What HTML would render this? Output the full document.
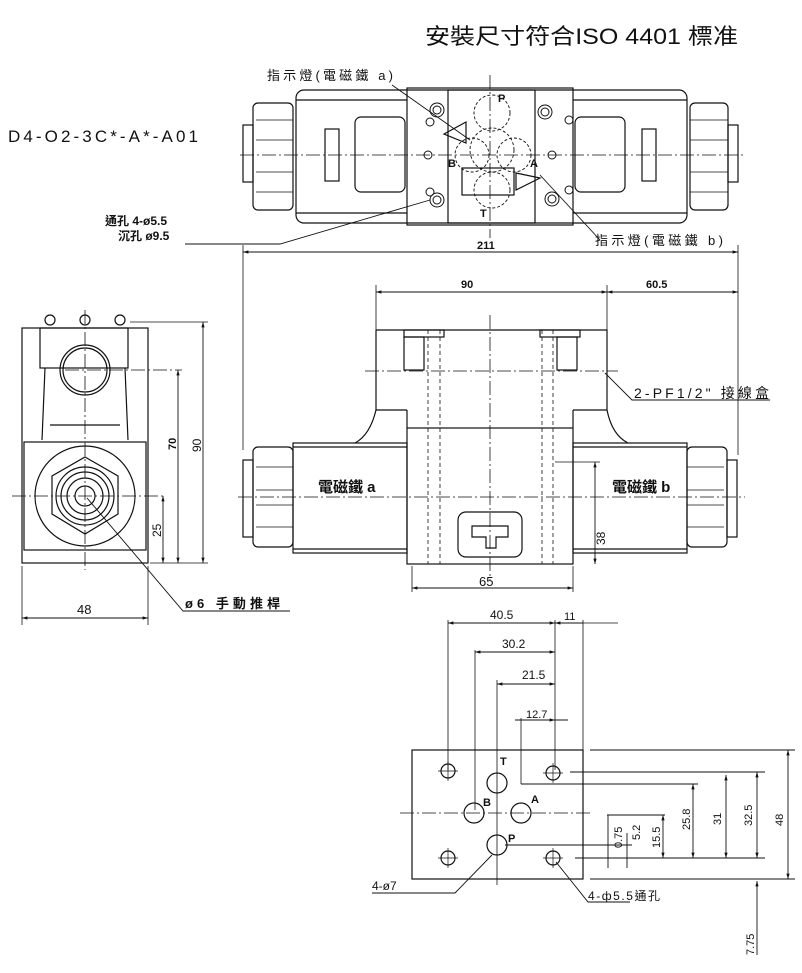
<!DOCTYPE html>
<html><head><meta charset="utf-8"><style>
html,body{margin:0;padding:0;background:#fff;}
svg{display:block}
text{font-family:"Liberation Sans","Noto Sans CJK TC",sans-serif;fill:#111}
</style></head><body>
<svg width="802" height="973" viewBox="0 0 802 973" xmlns="http://www.w3.org/2000/svg">
<defs>
<marker id="a" viewBox="0 0 10 10" refX="10" refY="5" markerWidth="8" markerHeight="6" orient="auto-start-reverse"><path d="M0,2 L10,5 L0,8 z" fill="#111"/></marker>
</defs>
<g stroke="#111" fill="none" stroke-width="1.2">
<!-- ===== TOP VIEW ===== -->
<rect x="296" y="90" width="391" height="133" rx="8"/>
<line x1="296" y1="100" x2="407" y2="100"/><line x1="573" y1="100" x2="687" y2="100"/>
<line x1="296" y1="213" x2="407" y2="213"/><line x1="573" y1="213" x2="687" y2="213"/>
<rect x="253" y="103" width="40" height="107" rx="5"/>
<g stroke-width="0.8"><line x1="256" y1="120" x2="293" y2="120"/><line x1="256" y1="140" x2="293" y2="140"/><line x1="256" y1="172" x2="293" y2="172"/><line x1="256" y1="192" x2="293" y2="192"/>
<line x1="690" y1="120" x2="728" y2="120"/><line x1="690" y1="140" x2="728" y2="140"/><line x1="690" y1="172" x2="728" y2="172"/><line x1="690" y1="192" x2="728" y2="192"/></g>
<rect x="243" y="125" width="10" height="57"/>
<rect x="690" y="103" width="38" height="107" rx="5"/>
<rect x="728" y="125" width="10" height="57"/>
<rect x="325" y="129" width="14" height="52"/><rect x="642" y="129" width="14" height="52"/>
<rect x="355" y="117" width="50" height="75" rx="6"/><rect x="575" y="117" width="50" height="75" rx="6"/>
<rect x="407" y="88" width="166" height="137"/>
<rect x="448" y="90" width="87" height="133"/>
<rect x="462" y="168" width="52" height="27"/>
<g stroke-dasharray="3,2" stroke-width="0.9">
<circle cx="492" cy="113" r="18"/><circle cx="472" cy="155" r="17"/><circle cx="514" cy="155" r="17"/><circle cx="492" cy="190" r="18"/><circle cx="492" cy="150" r="22"/>
</g>
<g stroke-width="1"><circle cx="437" cy="110" r="7"/><circle cx="437" cy="110" r="4"/>
<circle cx="430" cy="122" r="4"/><circle cx="430" cy="192" r="4"/><circle cx="428" cy="155" r="4"/>
<circle cx="437" cy="200" r="7"/><circle cx="437" cy="200" r="4"/>
<circle cx="545" cy="112" r="7"/><circle cx="545" cy="112" r="4"/>
<circle cx="552" cy="199" r="7"/><circle cx="552" cy="199" r="4"/>
<circle cx="569" cy="120" r="4"/><circle cx="569" cy="190" r="4"/><circle cx="552" cy="155" r="4"/></g>
<path d="M466,122 L444,134 L466,143 Z"/><path d="M516,173 L540,178 L516,190 Z"/>
<g stroke-dasharray="14,3,2,3" stroke-width="0.8">
<line x1="240" y1="155" x2="745" y2="155"/><line x1="490" y1="75" x2="490" y2="238"/>
</g>
<line x1="392" y1="85" x2="470" y2="140" stroke-width="0.9"/>
<line x1="540" y1="175" x2="600" y2="240" stroke-width="0.9"/>
<path d="M430,200 L280,244 L185,244" stroke-width="0.9"/>
<line x1="243" y1="252" x2="738" y2="252" marker-start="url(#a)" marker-end="url(#a)" stroke-width="0.9"/>
<line x1="243" y1="245" x2="243" y2="450" stroke-width="0.8"/><line x1="738" y1="245" x2="738" y2="455" stroke-width="0.8"/>

<!-- ===== FRONT VIEW ===== -->
<line x1="376" y1="292" x2="607" y2="292" marker-start="url(#a)" marker-end="url(#a)" stroke-width="0.9"/>
<line x1="607" y1="292" x2="738" y2="292" marker-start="url(#a)" marker-end="url(#a)" stroke-width="0.9"/>
<line x1="376" y1="285" x2="376" y2="330" stroke-width="0.8"/><line x1="607" y1="285" x2="607" y2="330" stroke-width="0.8"/>
<path d="M376,330 L607,330 L607,410 Q612,435 628,443"/>
<path d="M376,330 L376,410 Q370,435 355,443"/>
<line x1="376" y1="410" x2="407" y2="410"/><line x1="573" y1="410" x2="607" y2="410"/>
<line x1="407" y1="410" x2="407" y2="428"/><line x1="573" y1="410" x2="573" y2="428"/>
<rect x="404" y="330" width="40" height="7"/><rect x="540" y="330" width="40" height="7"/>
<rect x="404" y="337" width="20" height="33"/><rect x="557" y="337" width="20" height="33"/>
<g stroke-dasharray="4,3" stroke-width="0.8"><line x1="428" y1="330" x2="428" y2="564"/><line x1="440" y1="330" x2="440" y2="564"/><line x1="542" y1="330" x2="542" y2="564"/><line x1="553" y1="330" x2="553" y2="564"/></g>
<rect x="407" y="428" width="166" height="136"/>
<rect x="293" y="443" width="114" height="110"/><line x1="293" y1="447" x2="407" y2="447"/><line x1="293" y1="549" x2="407" y2="549"/>
<rect x="573" y="443" width="114" height="110"/><line x1="573" y1="447" x2="687" y2="447"/><line x1="573" y1="549" x2="687" y2="549"/>
<rect x="253" y="447" width="40" height="100" rx="5"/><rect x="243" y="460" width="10" height="77"/>
<rect x="687" y="447" width="40" height="100" rx="5"/><rect x="727" y="460" width="10" height="77"/>
<g stroke-width="0.8"><line x1="256" y1="467" x2="293" y2="467"/><line x1="256" y1="490" x2="293" y2="490"/><line x1="256" y1="505" x2="293" y2="505"/><line x1="256" y1="527" x2="293" y2="527"/>
<line x1="687" y1="467" x2="724" y2="467"/><line x1="687" y1="490" x2="724" y2="490"/><line x1="687" y1="505" x2="724" y2="505"/><line x1="687" y1="527" x2="724" y2="527"/></g>
<rect x="458" y="512" width="64" height="45" rx="8"/>
<path d="M472,526 L508,526 L508,537 L496,537 L496,548 L486,548 L486,537 L472,537 Z"/>
<g stroke-dasharray="14,3,2,3" stroke-width="0.8"><line x1="238" y1="497" x2="745" y2="497"/><line x1="490" y1="315" x2="490" y2="580"/><line x1="365" y1="371" x2="618" y2="371"/></g>
<path d="M605,373 L632,400 L770,400" stroke-width="0.9"/>
<line x1="412" y1="588" x2="573" y2="588" marker-start="url(#a)" marker-end="url(#a)" stroke-width="0.9"/>
<line x1="412" y1="566" x2="412" y2="592" stroke-width="0.8"/><line x1="573" y1="566" x2="573" y2="592" stroke-width="0.8"/>
<line x1="595" y1="462" x2="595" y2="564" marker-start="url(#a)" marker-end="url(#a)" stroke-width="0.9"/>
<line x1="555" y1="462" x2="600" y2="462" stroke-width="0.8"/>

<!-- ===== SIDE VIEW ===== -->
<rect x="22" y="328" width="126" height="235"/>
<rect x="40" y="328" width="88" height="40"/>
<path d="M45,368 L42,440 M125,368 L128,440"/>
<line x1="50" y1="425" x2="120" y2="425"/>
<rect x="24" y="442" width="122" height="108"/>
<circle cx="85" cy="370" r="25"/><circle cx="85" cy="370" r="22"/>
<circle cx="85" cy="496" r="50"/>
<path d="M85,457 L118,476 L118,514 L85,534 L52,514 L52,476 Z"/>
<circle cx="85" cy="496" r="29"/><circle cx="85" cy="496" r="24"/><circle cx="85" cy="496" r="18"/><circle cx="85" cy="496" r="10"/>
<circle cx="50" cy="320" r="5"/><circle cx="85" cy="320" r="5"/><circle cx="120" cy="320" r="5"/>
<g stroke-dasharray="14,3,2,3" stroke-width="0.8"><line x1="12" y1="496" x2="165" y2="496"/><line x1="85" y1="310" x2="85" y2="570"/><line x1="65" y1="370" x2="182" y2="370"/></g>
<line x1="130" y1="322" x2="208" y2="322" stroke-width="0.8"/><line x1="150" y1="563" x2="208" y2="563" stroke-width="0.8"/>
<line x1="203" y1="322" x2="203" y2="563" marker-start="url(#a)" marker-end="url(#a)" stroke-width="0.9"/>
<line x1="178" y1="370" x2="178" y2="563" marker-start="url(#a)" marker-end="url(#a)" stroke-width="0.9"/>
<line x1="163" y1="496" x2="163" y2="563" marker-start="url(#a)" marker-end="url(#a)" stroke-width="0.9"/>
<line x1="22" y1="566" x2="22" y2="625" stroke-width="0.8"/><line x1="148" y1="566" x2="148" y2="625" stroke-width="0.8"/>
<line x1="22" y1="618" x2="148" y2="618" marker-start="url(#a)" marker-end="url(#a)" stroke-width="0.9"/>
<path d="M87,498 L183,611 L290,611" stroke-width="0.9"/>

<!-- ===== BOTTOM VIEW ===== -->
<rect x="412" y="750" width="171" height="129"/>
<g stroke-width="0.8">
<line x1="448" y1="620" x2="448" y2="770"/><line x1="555" y1="620" x2="555" y2="770"/><line x1="583" y1="620" x2="583" y2="750"/><line x1="583" y1="623" x2="618" y2="623"/>
<line x1="475" y1="650" x2="475" y2="810"/><line x1="497" y1="680" x2="497" y2="885"/><line x1="521" y1="718" x2="521" y2="784"/>
</g>
<line x1="448" y1="623" x2="555" y2="623" marker-start="url(#a)" marker-end="url(#a)" stroke-width="0.9"/>
<line x1="583" y1="623" x2="555" y2="623" marker-end="url(#a)" stroke-width="0.9"/>
<line x1="475" y1="652" x2="555" y2="652" marker-start="url(#a)" marker-end="url(#a)" stroke-width="0.9"/>
<line x1="497" y1="684" x2="555" y2="684" marker-start="url(#a)" marker-end="url(#a)" stroke-width="0.9"/>
<line x1="515" y1="720" x2="568" y2="720" stroke-width="0.9"/>
<line x1="535" y1="720" x2="555" y2="720" marker-end="url(#a)" stroke-width="0.9"/>
<circle cx="448" cy="771" r="7"/><circle cx="553" cy="773" r="7"/><circle cx="448" cy="858" r="7"/><circle cx="553" cy="858" r="7"/>
<circle cx="497" cy="783" r="10"/><circle cx="474" cy="813" r="10"/><circle cx="521" cy="813" r="10"/><circle cx="497" cy="845" r="10"/>
<g stroke-width="0.7"><line x1="438" y1="771" x2="458" y2="771"/><line x1="448" y1="761" x2="448" y2="781"/>
<line x1="543" y1="773" x2="563" y2="773"/><line x1="553" y1="763" x2="553" y2="783"/>
<line x1="438" y1="858" x2="458" y2="858"/><line x1="448" y1="848" x2="448" y2="868"/>
<line x1="543" y1="858" x2="563" y2="858"/><line x1="553" y1="848" x2="553" y2="868"/></g>
<g stroke-dasharray="14,3,2,3" stroke-width="0.8"><line x1="400" y1="813" x2="590" y2="813"/></g>
<g stroke-width="0.9">
<line x1="590" y1="750" x2="795" y2="750"/><line x1="570" y1="772" x2="765" y2="772"/><line x1="521" y1="784" x2="698" y2="784"/>
<line x1="607" y1="815" x2="665" y2="815"/><line x1="505" y1="845" x2="632" y2="845"/><line x1="575" y1="858" x2="765" y2="858"/><line x1="590" y1="879" x2="795" y2="879"/>
</g>
<g stroke-width="0.9">
<line x1="788" y1="750" x2="788" y2="879" marker-start="url(#a)" marker-end="url(#a)"/>
<line x1="757" y1="772" x2="757" y2="858" marker-start="url(#a)" marker-end="url(#a)"/>
<line x1="726" y1="775" x2="726" y2="858" marker-start="url(#a)" marker-end="url(#a)"/>
<line x1="693" y1="784" x2="693" y2="858" marker-start="url(#a)" marker-end="url(#a)"/>
<line x1="663" y1="815" x2="663" y2="858" marker-start="url(#a)" marker-end="url(#a)"/>
<line x1="627" y1="833" x2="627" y2="868"/>
<line x1="608" y1="815" x2="608" y2="868"/>
<line x1="757" y1="881" x2="757" y2="955" marker-start="url(#a)"/>
</g>
<path d="M492,855 L455,893 L372,893" stroke-width="0.9"/>
<path d="M556,862 L588,902 L630,902" stroke-width="0.9"/>
</g>

<!-- TEXT -->
<text x="425" y="44" font-size="22" fill="#222" textLength="313" lengthAdjust="spacingAndGlyphs">安裝尺寸符合ISO 4401 標准</text>
<text x="8" y="142" font-size="17" textLength="190">D4-O2-3C*-A*-A01</text>
<text x="267" y="80" font-size="13" textLength="126">指示燈(電磁鐵 a)</text>
<text x="595" y="245" font-size="13" textLength="128">指示燈(電磁鐵 b)</text>
<text x="105" y="225" font-size="12" font-weight="bold">通孔 4-ø5.5</text>
<text x="118" y="240" font-size="12" font-weight="bold">沉孔 ø9.5</text>
<text x="498" y="102" font-size="11" font-weight="bold">P</text>
<text x="448" y="167" font-size="11" font-weight="bold">B</text>
<text x="530" y="167" font-size="11" font-weight="bold">A</text>
<text x="480" y="217" font-size="11" font-weight="bold">T</text>
<text x="477" y="249" font-size="11" font-weight="bold">211</text>
<text x="461" y="288" font-size="11" font-weight="bold">90</text>
<text x="646" y="288" font-size="11" font-weight="bold">60.5</text>
<text x="634" y="398" font-size="14" textLength="135">2-PF1/2" 接線盒</text>
<text x="318" y="492" font-size="15" font-weight="bold">電磁鐵 a</text>
<text x="612" y="492" font-size="15" font-weight="bold">電磁鐵 b</text>
<text x="479" y="586" font-size="13">65</text>
<text transform="translate(605,545) rotate(-90)" font-size="12">38</text>
<text transform="translate(176,450) rotate(-90)" font-size="11" font-weight="bold">70</text>
<text transform="translate(201,452) rotate(-90)" font-size="12">90</text>
<text transform="translate(161,537) rotate(-90)" font-size="12">25</text>
<text x="77" y="614" font-size="13">48</text>
<text x="185" y="608" font-size="13" font-weight="bold" textLength="95">ø6 手動推桿</text>
<text x="490" y="619" font-size="12">40.5</text>
<text x="564" y="620" font-size="11">11</text>
<text x="502" y="648" font-size="12">30.2</text>
<text x="522" y="679" font-size="12">21.5</text>
<text x="526" y="718" font-size="11">12.7</text>
<text x="500" y="765" font-size="11" font-weight="bold">T</text>
<text x="483" y="806" font-size="11" font-weight="bold">B</text>
<text x="531" y="803" font-size="11" font-weight="bold">A</text>
<text x="508" y="842" font-size="11" font-weight="bold">P</text>
<text transform="translate(622,848) rotate(-90)" font-size="11">0.75</text>
<text transform="translate(640,840) rotate(-90)" font-size="11">5.2</text>
<text transform="translate(660,848) rotate(-90)" font-size="11">15.5</text>
<text transform="translate(690,830) rotate(-90)" font-size="11">25.8</text>
<text transform="translate(721,825) rotate(-90)" font-size="11">31</text>
<text transform="translate(752,826) rotate(-90)" font-size="11">32.5</text>
<text transform="translate(783,826) rotate(-90)" font-size="11">48</text>
<text transform="translate(754,955) rotate(-90)" font-size="11">7.75</text>
<text x="372" y="890" font-size="12">4-ø7</text>
<text x="588" y="900" font-size="12" textLength="72">4-ф5.5通孔</text>
</svg>
</body></html>
